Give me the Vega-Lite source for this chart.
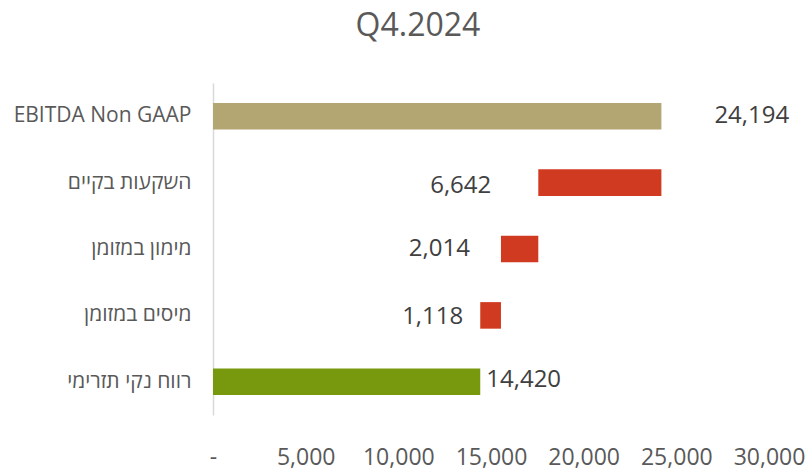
{
  "$schema": "https://vega.github.io/schema/vega-lite/v6.json",
  "width": 556,
  "height": 332,
  "autosize": "none",
  "padding": {"left": 213, "top": 83, "right": 41, "bottom": 55},
  "background": "white",
  "title": {
    "text": "Q4.2024",
    "font": "Open Sans",
    "fontSize": 32,
    "fontWeight": "normal",
    "color": "#595959",
    "anchor": "middle",
    "dx": -73,
    "offset": 40
  },
  "config": {"view": {"stroke": null}},
  "data": {
    "values": [
      {"category": "EBITDA Non GAAP", "start": 0, "end": 24194, "value": 24194, "kind": "total"},
      {"category": "השקעות בקיים", "start": 17552, "end": 24194, "value": 6642, "kind": "neg"},
      {"category": "מימון במזומן", "start": 15538, "end": 17552, "value": 2014, "kind": "neg"},
      {"category": "מיסים במזומן", "start": 14420, "end": 15538, "value": 1118, "kind": "neg"},
      {"category": "רווח נקי תזרימי", "start": 0, "end": 14420, "value": 14420, "kind": "net"}
    ]
  },
  "encoding": {
    "y": {
      "field": "category",
      "type": "nominal",
      "sort": null,
      "scale": {"paddingInner": 0.6, "paddingOuter": 0.3},
      "axis": {
        "title": null,
        "ticks": false,
        "labelPadding": 22,
        "labelFont": "Open Sans",
        "labelFontSize": 21,
        "labelColor": "#595959",
        "domainColor": "#D9D9D9",
        "domainWidth": 1.5
      }
    }
  },
  "layer": [
    {
      "mark": {"type": "bar"},
      "encoding": {
        "x": {
          "field": "start",
          "type": "quantitative",
          "scale": {"domain": [0, 30000], "nice": false},
          "axis": {
            "title": null,
            "values": [0, 5000, 10000, 15000, 20000, 25000, 30000],
            "grid": false,
            "domain": false,
            "ticks": false,
            "labelOverlap": false,
            "labelFlush": false,
            "labelPadding": 31,
            "labelFont": "Open Sans",
            "labelFontSize": 23,
            "labelColor": "#595959",
            "labelExpr": "datum.value == 0 ? '-   ' : format(datum.value, ',')"
          }
        },
        "x2": {"field": "end"},
        "color": {
          "field": "kind",
          "type": "nominal",
          "scale": {"domain": ["total", "neg", "net"], "range": ["#B3A673", "#D03A21", "#78990E"]},
          "legend": null
        }
      }
    },
    {
      "transform": [{"filter": "datum.value == 24194"}],
      "mark": {"type": "text", "align": "left", "baseline": "middle", "dx": 53, "font": "Open Sans", "fontSize": 24, "color": "#404040"},
      "encoding": {"x": {"field": "end", "type": "quantitative"}, "text": {"field": "value", "type": "quantitative", "format": ","}}
    },
    {
      "transform": [{"filter": "datum.value == 6642"}],
      "mark": {"type": "text", "align": "right", "baseline": "middle", "dx": -47, "dy": 3, "font": "Open Sans", "fontSize": 24, "color": "#404040"},
      "encoding": {"x": {"field": "start", "type": "quantitative"}, "text": {"field": "value", "type": "quantitative", "format": ","}}
    },
    {
      "transform": [{"filter": "datum.value == 2014"}],
      "mark": {"type": "text", "align": "right", "baseline": "middle", "dx": -31, "font": "Open Sans", "fontSize": 24, "color": "#404040"},
      "encoding": {"x": {"field": "start", "type": "quantitative"}, "text": {"field": "value", "type": "quantitative", "format": ","}}
    },
    {
      "transform": [{"filter": "datum.value == 1118"}],
      "mark": {"type": "text", "align": "right", "baseline": "middle", "dx": -17, "dy": 2, "font": "Open Sans", "fontSize": 24, "color": "#404040"},
      "encoding": {"x": {"field": "start", "type": "quantitative"}, "text": {"field": "value", "type": "quantitative", "format": ","}}
    },
    {
      "transform": [{"filter": "datum.value == 14420"}],
      "mark": {"type": "text", "align": "left", "baseline": "middle", "dx": 6, "dy": -2, "font": "Open Sans", "fontSize": 24, "color": "#404040"},
      "encoding": {"x": {"field": "end", "type": "quantitative"}, "text": {"field": "value", "type": "quantitative", "format": ","}}
    }
  ]
}
